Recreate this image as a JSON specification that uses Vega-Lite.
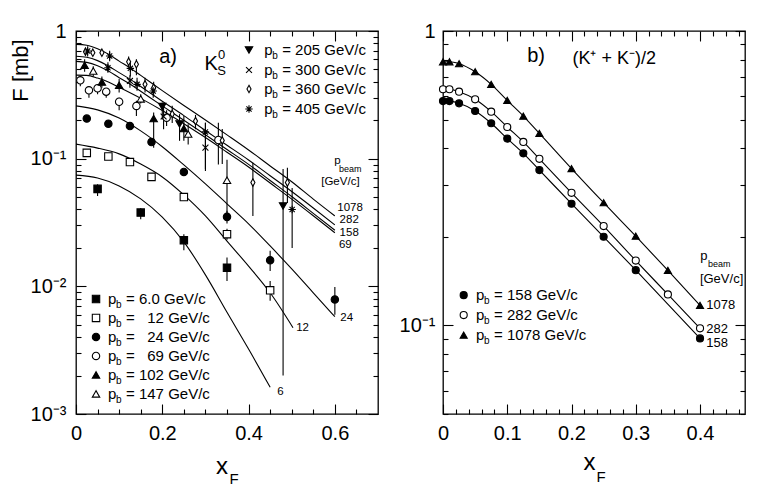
{
"$schema": "https://vega.github.io/schema/vega-lite/v6.json",
"padding": {"left": 8, "top": 20, "right": 0, "bottom": 0},
"background": "white",
"spacing": 18,
"resolve": {"scale": {"shape": "independent", "fill": "independent", "size": "independent"}},
"config": {
 "view": {"stroke": "black", "strokeWidth": 1.3},
 "axis": {"domain": false, "grid": false, "tickColor": "black", "tickWidth": 1.1, "labelColor": "black", "labelFont": "Liberation Sans", "labelFontSize": 20, "labelFlush": false, "labelOverlap": false, "titleColor": "black", "titleFont": "Liberation Sans", "titleFontWeight": "normal"},
 "text": {"font": "Liberation Sans", "color": "black"}
},
"datasets": {
 "ks": [
  {"pb":"6.0","x":0.05,"F":0.058,"lo":0.051,"hi":0.063},
  {"pb":"6.0","x":0.15,"F":0.0378,"lo":0.0335,"hi":0.0411},
  {"pb":"6.0","x":0.25,"F":0.023,"lo":0.0192,"hi":0.0256},
  {"pb":"6.0","x":0.35,"F":0.014,"lo":0.011,"hi":0.0168},
  {"pb":"12","x":0.025,"F":0.111},
  {"pb":"12","x":0.075,"F":0.104},
  {"pb":"12","x":0.125,"F":0.094},
  {"pb":"12","x":0.175,"F":0.072},
  {"pb":"12","x":0.25,"F":0.05},
  {"pb":"12","x":0.35,"F":0.0256,"lo":0.0232,"hi":0.0282},
  {"pb":"12","x":0.45,"F":0.0093,"lo":0.0077,"hi":0.011},
  {"pb":"24","x":0.025,"F":0.206},
  {"pb":"24","x":0.075,"F":0.188},
  {"pb":"24","x":0.125,"F":0.18},
  {"pb":"24","x":0.175,"F":0.135},
  {"pb":"24","x":0.25,"F":0.0787},
  {"pb":"24","x":0.35,"F":0.035,"lo":0.031,"hi":0.039},
  {"pb":"24","x":0.45,"F":0.016,"lo":0.0132,"hi":0.019},
  {"pb":"24","x":0.6,"F":0.0079,"lo":0.006,"hi":0.0099},
  {"pb":"69","x":0.01,"F":0.411,"lo":0.37,"hi":0.44},
  {"pb":"69","x":0.03,"F":0.343,"lo":0.3,"hi":0.36},
  {"pb":"69","x":0.05,"F":0.356,"lo":0.32,"hi":0.37},
  {"pb":"69","x":0.07,"F":0.335,"lo":0.3,"hi":0.35},
  {"pb":"69","x":0.1,"F":0.279,"lo":0.24,"hi":0.3},
  {"pb":"69","x":0.14,"F":0.259,"lo":0.216,"hi":0.284},
  {"pb":"69","x":0.21,"F":0.2095,"lo":0.18,"hi":0.24},
  {"pb":"69","x":0.33,"F":0.14,"lo":0.09,"hi":0.191},
  {"pb":"102","x":0.02,"F":0.539,"lo":0.48,"hi":0.6},
  {"pb":"102","x":0.06,"F":0.399,"lo":0.36,"hi":0.44},
  {"pb":"102","x":0.1,"F":0.376,"lo":0.33,"hi":0.42},
  {"pb":"102","x":0.18,"F":0.206,"lo":0.122,"hi":0.23},
  {"pb":"102","x":0.25,"F":0.172,"lo":0.138,"hi":0.216},
  {"pb":"147","x":0.04,"F":0.486,"lo":0.44,"hi":0.53},
  {"pb":"147","x":0.15,"F":0.294,"lo":0.27,"hi":0.32},
  {"pb":"147","x":0.26,"F":0.156,"lo":0.129,"hi":0.186},
  {"pb":"147","x":0.35,"F":0.0677,"lo":0.0355,"hi":0.098},
  {"pb":"205","x":0.2,"F":0.256,"lo":0.203,"hi":0.275},
  {"pb":"205","x":0.24,"F":0.187,"lo":0.138,"hi":0.223},
  {"pb":"205","x":0.48,"F":0.0426,"lo":0.002,"hi":0.083},
  {"pb":"300","x":0.125,"F":0.406,"lo":0.36,"hi":0.45},
  {"pb":"300","x":0.203,"F":0.214,"lo":0.17,"hi":0.26},
  {"pb":"300","x":0.3,"F":0.122,"lo":0.08,"hi":0.191},
  {"pb":"360","x":0.022,"F":0.689,"lo":0.64,"hi":0.74},
  {"pb":"360","x":0.039,"F":0.676},
  {"pb":"360","x":0.06,"F":0.676},
  {"pb":"360","x":0.122,"F":0.575,"lo":0.52,"hi":0.63},
  {"pb":"360","x":0.14,"F":0.549,"lo":0.45,"hi":0.6},
  {"pb":"360","x":0.16,"F":0.382,"lo":0.33,"hi":0.43},
  {"pb":"360","x":0.18,"F":0.36,"lo":0.31,"hi":0.4},
  {"pb":"360","x":0.223,"F":0.224,"lo":0.19,"hi":0.26},
  {"pb":"360","x":0.277,"F":0.197,"lo":0.17,"hi":0.22},
  {"pb":"360","x":0.339,"F":0.139,"lo":0.091,"hi":0.171},
  {"pb":"360","x":0.41,"F":0.065,"lo":0.0356,"hi":0.093},
  {"pb":"360","x":0.49,"F":0.065,"lo":0.045,"hi":0.085},
  {"pb":"405","x":0.027,"F":0.697,"lo":0.63,"hi":0.76},
  {"pb":"405","x":0.078,"F":0.637,"lo":0.58,"hi":0.7},
  {"pb":"405","x":0.074,"F":0.516,"lo":0.47,"hi":0.57},
  {"pb":"405","x":0.126,"F":0.51,"lo":0.44,"hi":0.58},
  {"pb":"405","x":0.1415,"F":0.382,"lo":0.34,"hi":0.43},
  {"pb":"405","x":0.179,"F":0.339,"lo":0.3,"hi":0.38},
  {"pb":"405","x":0.3,"F":0.162,"lo":0.083,"hi":0.191},
  {"pb":"405","x":0.501,"F":0.04,"lo":0.02,"hi":0.059}
 ],
 "fitsL": [
  {"pb":"1078","x":0,"F":0.786},{"pb":"1078","x":0.025,"F":0.774},{"pb":"1078","x":0.05,"F":0.727},{"pb":"1078","x":0.075,"F":0.659},{"pb":"1078","x":0.1,"F":0.581},{"pb":"1078","x":0.125,"F":0.514},{"pb":"1078","x":0.15,"F":0.449},{"pb":"1078","x":0.2,"F":0.341},{"pb":"1078","x":0.25,"F":0.261},{"pb":"1078","x":0.3,"F":0.201},{"pb":"1078","x":0.35,"F":0.1537},{"pb":"1078","x":0.4,"F":0.117},{"pb":"1078","x":0.45,"F":0.0877},{"pb":"1078","x":0.5,"F":0.066},{"pb":"1078","x":0.55,"F":0.0482},{"pb":"1078","x":0.6,"F":0.0356},
  {"pb":"282","x":0,"F":0.634},{"pb":"282","x":0.025,"F":0.622},{"pb":"282","x":0.05,"F":0.586},{"pb":"282","x":0.075,"F":0.532},{"pb":"282","x":0.1,"F":0.472},{"pb":"282","x":0.125,"F":0.42},{"pb":"282","x":0.15,"F":0.368},{"pb":"282","x":0.2,"F":0.282},{"pb":"282","x":0.25,"F":0.2175},{"pb":"282","x":0.3,"F":0.166},{"pb":"282","x":0.35,"F":0.1274},{"pb":"282","x":0.4,"F":0.0977},{"pb":"282","x":0.45,"F":0.0735},{"pb":"282","x":0.5,"F":0.0553},{"pb":"282","x":0.55,"F":0.0411},{"pb":"282","x":0.6,"F":0.0303},
  {"pb":"158","x":0,"F":0.578},{"pb":"158","x":0.025,"F":0.568},{"pb":"158","x":0.05,"F":0.535},{"pb":"158","x":0.075,"F":0.486},{"pb":"158","x":0.1,"F":0.431},{"pb":"158","x":0.125,"F":0.384},{"pb":"158","x":0.15,"F":0.337},{"pb":"158","x":0.2,"F":0.259},{"pb":"158","x":0.25,"F":0.2},{"pb":"158","x":0.3,"F":0.154},{"pb":"158","x":0.35,"F":0.118},{"pb":"158","x":0.4,"F":0.0903},{"pb":"158","x":0.45,"F":0.0675},{"pb":"158","x":0.5,"F":0.0505},{"pb":"158","x":0.55,"F":0.0373},{"pb":"158","x":0.6,"F":0.0275},
  {"pb":"69","x":0,"F":0.451},{"pb":"69","x":0.025,"F":0.449},{"pb":"69","x":0.05,"F":0.428},{"pb":"69","x":0.075,"F":0.3985},{"pb":"69","x":0.1,"F":0.362},{"pb":"69","x":0.15,"F":0.2966},{"pb":"69","x":0.2,"F":0.2383},{"pb":"69","x":0.25,"F":0.188},{"pb":"69","x":0.3,"F":0.1463},{"pb":"69","x":0.35,"F":0.1123},{"pb":"69","x":0.4,"F":0.086},{"pb":"69","x":0.45,"F":0.0644},{"pb":"69","x":0.5,"F":0.0482},{"pb":"69","x":0.55,"F":0.0357},{"pb":"69","x":0.6,"F":0.0263},
  {"pb":"24","x":0,"F":0.259},{"pb":"24","x":0.05,"F":0.241},{"pb":"24","x":0.1,"F":0.208},{"pb":"24","x":0.15,"F":0.165},{"pb":"24","x":0.2,"F":0.124},{"pb":"24","x":0.25,"F":0.0893},{"pb":"24","x":0.3,"F":0.0634},{"pb":"24","x":0.35,"F":0.0443},{"pb":"24","x":0.4,"F":0.0309},{"pb":"24","x":0.45,"F":0.0207},{"pb":"24","x":0.5,"F":0.0137},{"pb":"24","x":0.55,"F":0.0089},{"pb":"24","x":0.6,"F":0.00578},
  {"pb":"12","x":0,"F":0.13},{"pb":"12","x":0.05,"F":0.121},{"pb":"12","x":0.1,"F":0.109},{"pb":"12","x":0.15,"F":0.0907},{"pb":"12","x":0.2,"F":0.0719},{"pb":"12","x":0.25,"F":0.052},{"pb":"12","x":0.3,"F":0.0356},{"pb":"12","x":0.35,"F":0.0226},{"pb":"12","x":0.4,"F":0.0144},{"pb":"12","x":0.45,"F":0.0089},{"pb":"12","x":0.503,"F":0.00474},
  {"pb":"6","x":0,"F":0.0743},{"pb":"6","x":0.05,"F":0.0705},{"pb":"6","x":0.1,"F":0.0612},{"pb":"6","x":0.15,"F":0.0484},{"pb":"6","x":0.2,"F":0.0349},{"pb":"6","x":0.25,"F":0.0223},{"pb":"6","x":0.3,"F":0.0123},{"pb":"6","x":0.35,"F":0.00627},{"pb":"6","x":0.4,"F":0.00323},{"pb":"6","x":0.45,"F":0.00162}
 ],
 "legL": [
  {"pb":"205","mx":0.401,"tx":0.4362,"F":0.71,"lab":"= 205 GeV/c"},
  {"pb":"300","mx":0.401,"tx":0.4362,"F":0.495,"lab":"= 300 GeV/c"},
  {"pb":"360","mx":0.401,"tx":0.4362,"F":0.3513,"lab":"= 360 GeV/c"},
  {"pb":"405","mx":0.401,"tx":0.4362,"F":0.245,"lab":"= 405 GeV/c"},
  {"pb":"6.0","mx":0.0464,"tx":0.0742,"F":0.00796,"lab":"= 6.0 GeV/c"},
  {"pb":"12","mx":0.0464,"tx":0.0742,"F":0.005655,"lab":"= \u200712 GeV/c"},
  {"pb":"24","mx":0.0464,"tx":0.0742,"F":0.004016,"lab":"= \u200724 GeV/c"},
  {"pb":"69","mx":0.0464,"tx":0.0742,"F":0.002851,"lab":"= \u200769 GeV/c"},
  {"pb":"102","mx":0.0464,"tx":0.0742,"F":0.002024,"lab":"= 102 GeV/c"},
  {"pb":"147","mx":0.0464,"tx":0.0742,"F":0.001437,"lab":"= 147 GeV/c"}
 ],
 "annLbig": [
  {"x":0.2135,"F":0.626,"t":"a)"},
  {"x":0.3132,"F":0.552,"t":"K"}
 ],
 "annLsup": [
  {"x":0.3375,"F":0.649,"t":"0"},
  {"x":0.3375,"F":0.486,"t":"S"}
 ],
 "annLlab": [
  {"x":0.6056,"F":0.0411,"t":"1078"},
  {"x":0.611,"F":0.03293,"t":"282"},
  {"x":0.611,"F":0.02638,"t":"158"},
  {"x":0.6094,"F":0.0211,"t":"69"},
  {"x":0.6125,"F":0.00566,"t":"24"},
  {"x":0.5104,"F":0.00472,"t":"12"},
  {"x":0.4664,"F":0.00149,"t":"6"},
  {"x":0.5986,"F":0.0959,"t":"p"},
  {"x":0.5684,"F":0.0657,"t":"[GeV/c]"}
 ],
 "annLtiny": [
  {"x":0.6095,"F":0.0825,"t":"beam"}
 ],
 "kpm": [
  {"pb":"158","x":0,"F":0.578},{"pb":"158","x":0.01,"F":0.578},{"pb":"158","x":0.025,"F":0.568},{"pb":"158","x":0.05,"F":0.535},{"pb":"158","x":0.075,"F":0.486},{"pb":"158","x":0.1,"F":0.431},{"pb":"158","x":0.125,"F":0.384},{"pb":"158","x":0.15,"F":0.337},{"pb":"158","x":0.2,"F":0.259},{"pb":"158","x":0.25,"F":0.2},{"pb":"158","x":0.3,"F":0.154},{"pb":"158","x":0.4,"F":0.0903},
  {"pb":"282","x":0,"F":0.634},{"pb":"282","x":0.01,"F":0.634},{"pb":"282","x":0.025,"F":0.622},{"pb":"282","x":0.05,"F":0.586},{"pb":"282","x":0.075,"F":0.532},{"pb":"282","x":0.1,"F":0.472},{"pb":"282","x":0.125,"F":0.42},{"pb":"282","x":0.15,"F":0.368},{"pb":"282","x":0.2,"F":0.282},{"pb":"282","x":0.25,"F":0.2175},{"pb":"282","x":0.3,"F":0.166},{"pb":"282","x":0.35,"F":0.1274},{"pb":"282","x":0.4,"F":0.0977},
  {"pb":"1078","x":0,"F":0.786},{"pb":"1078","x":0.01,"F":0.786},{"pb":"1078","x":0.025,"F":0.774},{"pb":"1078","x":0.05,"F":0.727},{"pb":"1078","x":0.075,"F":0.659},{"pb":"1078","x":0.1,"F":0.581},{"pb":"1078","x":0.125,"F":0.514},{"pb":"1078","x":0.15,"F":0.449},{"pb":"1078","x":0.2,"F":0.341},{"pb":"1078","x":0.25,"F":0.261},{"pb":"1078","x":0.3,"F":0.201},{"pb":"1078","x":0.35,"F":0.1537},{"pb":"1078","x":0.4,"F":0.117}
 ],
 "legR": [
  {"pb":"158","mx":0.0322,"tx":0.0514,"F":0.1267,"lab":"= 158 GeV/c"},
  {"pb":"282","mx":0.0322,"tx":0.0514,"F":0.1084,"lab":"= 282 GeV/c"},
  {"pb":"1078","mx":0.0322,"tx":0.0514,"F":0.0927,"lab":"= 1078 GeV/c"}
 ],
 "annRbig": [
  {"x":0.1449,"F":0.822,"t":"b)"}
 ],
 "annRmid": [
  {"x":0.2664,"F":0.803,"t":"(K⁺ + K⁻)/2"}
 ],
 "annRlab": [
  {"x":0.4003,"F":0.172,"t":"p"},
  {"x":0.3998,"F":0.1437,"t":"[GeV/c]"},
  {"x":0.4097,"F":0.1172,"t":"1078"},
  {"x":0.4097,"F":0.0971,"t":"282"},
  {"x":0.4097,"F":0.0871,"t":"158"}
 ],
 "annRtiny": [
  {"x":0.4125,"F":0.162,"t":"beam"}
 ]
},
"hconcat": [
 {
  "width": 302, "height": 383,
  "resolve": {"axis": {"x": "independent", "y": "independent"}},
  "layer": [
   {
    "data": {"name": "fitsL"},
    "mark": {"type": "line", "color": "black", "strokeWidth": 1.1, "interpolate": "monotone", "clip": true},
    "encoding": {
     "x": {"field": "x", "type": "quantitative", "scale": {"domain": [0, 0.7], "nice": false, "zero": false},
      "axis": {"orient": "bottom", "values": [0, 0.2, 0.4, 0.6], "tickSize": -10, "labelPadding": 19, "labelExpr": "datum.value == 0 ? '0' : format(datum.value, '.1f')", "title": "x", "titleFontSize": 24, "titleX": 145.5, "titleY": 59, "titleAlign": "center", "titleBaseline": "alphabetic"}},
     "y": {"field": "F", "type": "quantitative", "scale": {"type": "log", "domain": [0.001, 1], "nice": false},
      "axis": {"orient": "left", "values": [0.001, 0.01, 0.1, 1], "tickSize": -10, "labelPadding": 20, "labelExpr": "datum.value >= 1 ? '1' : datum.value >= 0.1 ? '10⁻¹' : datum.value >= 0.01 ? '10⁻²' : '10⁻³'", "title": "F [mb]", "titleFontSize": 22, "titleAngle": 270, "titleX": -49, "titleY": 39, "titleAlign": "center", "titleBaseline": "alphabetic"}},
     "detail": {"field": "pb", "type": "nominal"}
    }
   },
   {
    "data": {"name": "ks"},
    "transform": [{"filter": "isValid(datum.lo)"}],
    "mark": {"type": "rule", "color": "black", "strokeWidth": 1.1},
    "encoding": {
     "x": {"field": "x", "type": "quantitative", "scale": {"domain": [0, 0.7], "nice": false, "zero": false},
      "axis": {"orient": "bottom", "values": [0.05, 0.1, 0.15, 0.25, 0.3, 0.35, 0.45, 0.5, 0.55, 0.65], "tickSize": -5, "labels": false, "title": "F", "titleFontSize": 15, "titleX": 157.5, "titleY": 69, "titleAlign": "center", "titleBaseline": "alphabetic"}},
     "y": {"field": "lo", "type": "quantitative", "scale": {"type": "log", "domain": [0.001, 1], "nice": false},
      "axis": {"orient": "left", "values": [0.002,0.003,0.004,0.005,0.006,0.007,0.008,0.009,0.02,0.03,0.04,0.05,0.06,0.07,0.08,0.09,0.2,0.3,0.4,0.5,0.6,0.7,0.8,0.9], "tickSize": -5, "labels": false, "title": null}},
     "y2": {"field": "hi"}
    }
   },
   {
    "data": {"name": "ks"},
    "mark": {"type": "point", "stroke": "black", "strokeWidth": 1.1, "opacity": 1},
    "encoding": {
     "x": {"field": "x", "type": "quantitative", "scale": {"domain": [0, 0.7], "nice": false, "zero": false},
      "axis": {"orient": "top", "values": [0, 0.2, 0.4, 0.6], "tickSize": -10, "labels": false, "title": null}},
     "y": {"field": "F", "type": "quantitative", "scale": {"type": "log", "domain": [0.001, 1], "nice": false},
      "axis": {"orient": "right", "values": [0.001, 0.01, 0.1, 1], "tickSize": -10, "labels": false, "title": null}},
     "shape": {"field": "pb", "type": "nominal", "legend": null, "scale": {"domain": ["6.0","12","24","69","102","147","205","300","360","405"], "range": ["square","square","circle","circle","triangle-up","triangle-up","triangle-down","M-0.8,-0.8L0.8,0.8M-0.8,0.8L0.8,-0.8","M0,-1L0.55,0L0,1L-0.55,0Z","M0,-1L0,1M-1,0L1,0M-0.7,-0.7L0.7,0.7M-0.7,0.7L0.7,-0.7"]}},
     "fill": {"field": "pb", "type": "nominal", "legend": null, "scale": {"domain": ["6.0","12","24","69","102","147","205","300","360","405"], "range": ["black","white","black","white","black","white","black","white","white","white"]}},
     "size": {"field": "pb", "type": "nominal", "legend": null, "scale": {"domain": ["6.0","12","24","69","102","147","205","300","360","405"], "range": [55,55,50,50,65,65,65,55,45,60]}}
    }
   },
   {
    "data": {"name": "legL"},
    "mark": {"type": "point", "stroke": "black", "strokeWidth": 1.1, "opacity": 1},
    "encoding": {
     "x": {"field": "mx", "type": "quantitative", "scale": {"domain": [0, 0.7], "nice": false, "zero": false},
      "axis": {"orient": "top", "values": [0.05, 0.1, 0.15, 0.25, 0.3, 0.35, 0.45, 0.5, 0.55, 0.65], "tickSize": -5, "labels": false, "title": null}},
     "y": {"field": "F", "type": "quantitative", "scale": {"type": "log", "domain": [0.001, 1], "nice": false},
      "axis": {"orient": "right", "values": [0.002,0.003,0.004,0.005,0.006,0.007,0.008,0.009,0.02,0.03,0.04,0.05,0.06,0.07,0.08,0.09,0.2,0.3,0.4,0.5,0.6,0.7,0.8,0.9], "tickSize": -5, "labels": false, "title": null}},
     "shape": {"field": "pb", "type": "nominal", "legend": null, "scale": {"domain": ["6.0","12","24","69","102","147","205","300","360","405"], "range": ["square","square","circle","circle","triangle-up","triangle-up","triangle-down","M-0.8,-0.8L0.8,0.8M-0.8,0.8L0.8,-0.8","M0,-1L0.55,0L0,1L-0.55,0Z","M0,-1L0,1M-1,0L1,0M-0.7,-0.7L0.7,0.7M-0.7,0.7L0.7,-0.7"]}},
     "fill": {"field": "pb", "type": "nominal", "legend": null, "scale": {"domain": ["6.0","12","24","69","102","147","205","300","360","405"], "range": ["black","white","black","white","black","white","black","white","white","white"]}},
     "size": {"field": "pb", "type": "nominal", "legend": null, "scale": {"domain": ["6.0","12","24","69","102","147","205","300","360","405"], "range": [55,55,50,50,65,65,65,55,45,60]}}
    }
   },
   {
    "data": {"name": "legL"},
    "mark": {"type": "text", "fontSize": 15, "align": "left", "baseline": "middle", "text": "p"},
    "encoding": {
     "x": {"field": "tx", "type": "quantitative", "axis": null},
     "y": {"field": "F", "type": "quantitative", "axis": null}
    }
   },
   {
    "data": {"name": "legL"},
    "mark": {"type": "text", "fontSize": 10, "align": "left", "baseline": "middle", "dx": 8, "dy": 6, "text": "b"},
    "encoding": {
     "x": {"field": "tx", "type": "quantitative", "axis": null},
     "y": {"field": "F", "type": "quantitative", "axis": null}
    }
   },
   {
    "data": {"name": "legL"},
    "mark": {"type": "text", "fontSize": 15, "align": "left", "baseline": "middle", "dx": 18},
    "encoding": {
     "x": {"field": "tx", "type": "quantitative", "axis": null},
     "y": {"field": "F", "type": "quantitative", "axis": null},
     "text": {"field": "lab"}
    }
   },
   {
    "data": {"name": "annLbig"},
    "mark": {"type": "text", "fontSize": 20, "align": "center", "baseline": "middle"},
    "encoding": {
     "x": {"field": "x", "type": "quantitative", "axis": null},
     "y": {"field": "F", "type": "quantitative", "axis": null},
     "text": {"field": "t"}
    }
   },
   {
    "data": {"name": "annLsup"},
    "mark": {"type": "text", "fontSize": 13, "align": "center", "baseline": "middle"},
    "encoding": {
     "x": {"field": "x", "type": "quantitative", "axis": null},
     "y": {"field": "F", "type": "quantitative", "axis": null},
     "text": {"field": "t"}
    }
   },
   {
    "data": {"name": "annLlab"},
    "mark": {"type": "text", "fontSize": 11.5, "align": "left", "baseline": "middle"},
    "encoding": {
     "x": {"field": "x", "type": "quantitative", "axis": null},
     "y": {"field": "F", "type": "quantitative", "axis": null},
     "text": {"field": "t"}
    }
   },
   {
    "data": {"name": "annLtiny"},
    "mark": {"type": "text", "fontSize": 9, "align": "left", "baseline": "middle"},
    "encoding": {
     "x": {"field": "x", "type": "quantitative", "axis": null},
     "y": {"field": "F", "type": "quantitative", "axis": null},
     "text": {"field": "t"}
    }
   }
  ]
 },
 {
  "width": 302, "height": 383,
  "resolve": {"axis": {"x": "independent", "y": "independent"}},
  "layer": [
   {
    "data": {"name": "kpm"},
    "mark": {"type": "line", "color": "black", "strokeWidth": 1.1, "interpolate": "monotone"},
    "encoding": {
     "x": {"field": "x", "type": "quantitative", "scale": {"domain": [0, 0.47], "nice": false, "zero": false},
      "axis": {"orient": "bottom", "values": [0, 0.1, 0.2, 0.3, 0.4], "tickSize": -10, "labelPadding": 19, "labelExpr": "datum.value == 0 ? '0' : format(datum.value, '.1f')", "title": "x", "titleFontSize": 24, "titleX": 146, "titleY": 55, "titleAlign": "center", "titleBaseline": "alphabetic"}},
     "y": {"field": "F", "type": "quantitative", "scale": {"type": "log", "domain": [0.05, 1], "nice": false},
      "axis": {"orient": "left", "values": [0.1, 1], "tickSize": -10, "labelPadding": 18, "labelExpr": "datum.value >= 1 ? '1' : '10⁻¹'", "title": null}},
     "detail": {"field": "pb", "type": "nominal"}
    }
   },
   {
    "data": {"name": "kpm"},
    "mark": {"type": "point", "stroke": "black", "strokeWidth": 1.1, "opacity": 1},
    "encoding": {
     "x": {"field": "x", "type": "quantitative", "scale": {"domain": [0, 0.47], "nice": false, "zero": false},
      "axis": {"orient": "bottom", "values": [0.02,0.04,0.06,0.08,0.12,0.14,0.16,0.18,0.22,0.24,0.26,0.28,0.32,0.34,0.36,0.38,0.42,0.44,0.46], "tickSize": -5, "labels": false, "title": "F", "titleFontSize": 15, "titleX": 157.5, "titleY": 67, "titleAlign": "center", "titleBaseline": "alphabetic"}},
     "y": {"field": "F", "type": "quantitative", "scale": {"type": "log", "domain": [0.05, 1], "nice": false},
      "axis": {"orient": "left", "values": [0.05,0.06,0.07,0.08,0.09,0.2,0.3,0.4,0.5,0.6,0.7,0.8,0.9], "tickSize": -5, "labels": false, "title": null}},
     "shape": {"field": "pb", "type": "nominal", "legend": null, "scale": {"domain": ["158","282","1078"], "range": ["circle","circle","triangle-up"]}},
     "fill": {"field": "pb", "type": "nominal", "legend": null, "scale": {"domain": ["158","282","1078"], "range": ["black","white","black"]}},
     "size": {"field": "pb", "type": "nominal", "legend": null, "scale": {"domain": ["158","282","1078"], "range": [50,50,60]}}
    }
   },
   {
    "data": {"name": "legR"},
    "mark": {"type": "point", "stroke": "black", "strokeWidth": 1.1, "opacity": 1},
    "encoding": {
     "x": {"field": "mx", "type": "quantitative", "scale": {"domain": [0, 0.47], "nice": false, "zero": false},
      "axis": {"orient": "top", "values": [0, 0.1, 0.2, 0.3, 0.4], "tickSize": -10, "labels": false, "title": null}},
     "y": {"field": "F", "type": "quantitative", "scale": {"type": "log", "domain": [0.05, 1], "nice": false},
      "axis": {"orient": "right", "values": [0.1, 1], "tickSize": -10, "labels": false, "title": null}},
     "shape": {"field": "pb", "type": "nominal", "legend": null, "scale": {"domain": ["158","282","1078"], "range": ["circle","circle","triangle-up"]}},
     "fill": {"field": "pb", "type": "nominal", "legend": null, "scale": {"domain": ["158","282","1078"], "range": ["black","white","black"]}},
     "size": {"field": "pb", "type": "nominal", "legend": null, "scale": {"domain": ["158","282","1078"], "range": [50,50,60]}}
    }
   },
   {
    "data": {"name": "annRlab"},
    "mark": {"type": "text", "fontSize": 13, "align": "left", "baseline": "middle"},
    "encoding": {
     "x": {"field": "x", "type": "quantitative", "scale": {"domain": [0, 0.47], "nice": false, "zero": false},
      "axis": {"orient": "top", "values": [0.02,0.04,0.06,0.08,0.12,0.14,0.16,0.18,0.22,0.24,0.26,0.28,0.32,0.34,0.36,0.38,0.42,0.44,0.46], "tickSize": -5, "labels": false, "title": null}},
     "y": {"field": "F", "type": "quantitative", "scale": {"type": "log", "domain": [0.05, 1], "nice": false},
      "axis": {"orient": "right", "values": [0.05,0.06,0.07,0.08,0.09,0.2,0.3,0.4,0.5,0.6,0.7,0.8,0.9], "tickSize": -5, "labels": false, "title": null}},
     "text": {"field": "t"}
    }
   },
   {
    "data": {"name": "legR"},
    "mark": {"type": "text", "fontSize": 15, "align": "left", "baseline": "middle", "text": "p"},
    "encoding": {
     "x": {"field": "tx", "type": "quantitative", "axis": null},
     "y": {"field": "F", "type": "quantitative", "axis": null}
    }
   },
   {
    "data": {"name": "legR"},
    "mark": {"type": "text", "fontSize": 10, "align": "left", "baseline": "middle", "dx": 8, "dy": 6, "text": "b"},
    "encoding": {
     "x": {"field": "tx", "type": "quantitative", "axis": null},
     "y": {"field": "F", "type": "quantitative", "axis": null}
    }
   },
   {
    "data": {"name": "legR"},
    "mark": {"type": "text", "fontSize": 15, "align": "left", "baseline": "middle", "dx": 18},
    "encoding": {
     "x": {"field": "tx", "type": "quantitative", "axis": null},
     "y": {"field": "F", "type": "quantitative", "axis": null},
     "text": {"field": "lab"}
    }
   },
   {
    "data": {"name": "annRbig"},
    "mark": {"type": "text", "fontSize": 20, "align": "center", "baseline": "middle"},
    "encoding": {
     "x": {"field": "x", "type": "quantitative", "axis": null},
     "y": {"field": "F", "type": "quantitative", "axis": null},
     "text": {"field": "t"}
    }
   },
   {
    "data": {"name": "annRmid"},
    "mark": {"type": "text", "fontSize": 18, "align": "center", "baseline": "middle"},
    "encoding": {
     "x": {"field": "x", "type": "quantitative", "axis": null},
     "y": {"field": "F", "type": "quantitative", "axis": null},
     "text": {"field": "t"}
    }
   },
   {
    "data": {"name": "annRtiny"},
    "mark": {"type": "text", "fontSize": 9, "align": "left", "baseline": "middle"},
    "encoding": {
     "x": {"field": "x", "type": "quantitative", "axis": null},
     "y": {"field": "F", "type": "quantitative", "axis": null},
     "text": {"field": "t"}
    }
   }
  ]
 }
]
}
